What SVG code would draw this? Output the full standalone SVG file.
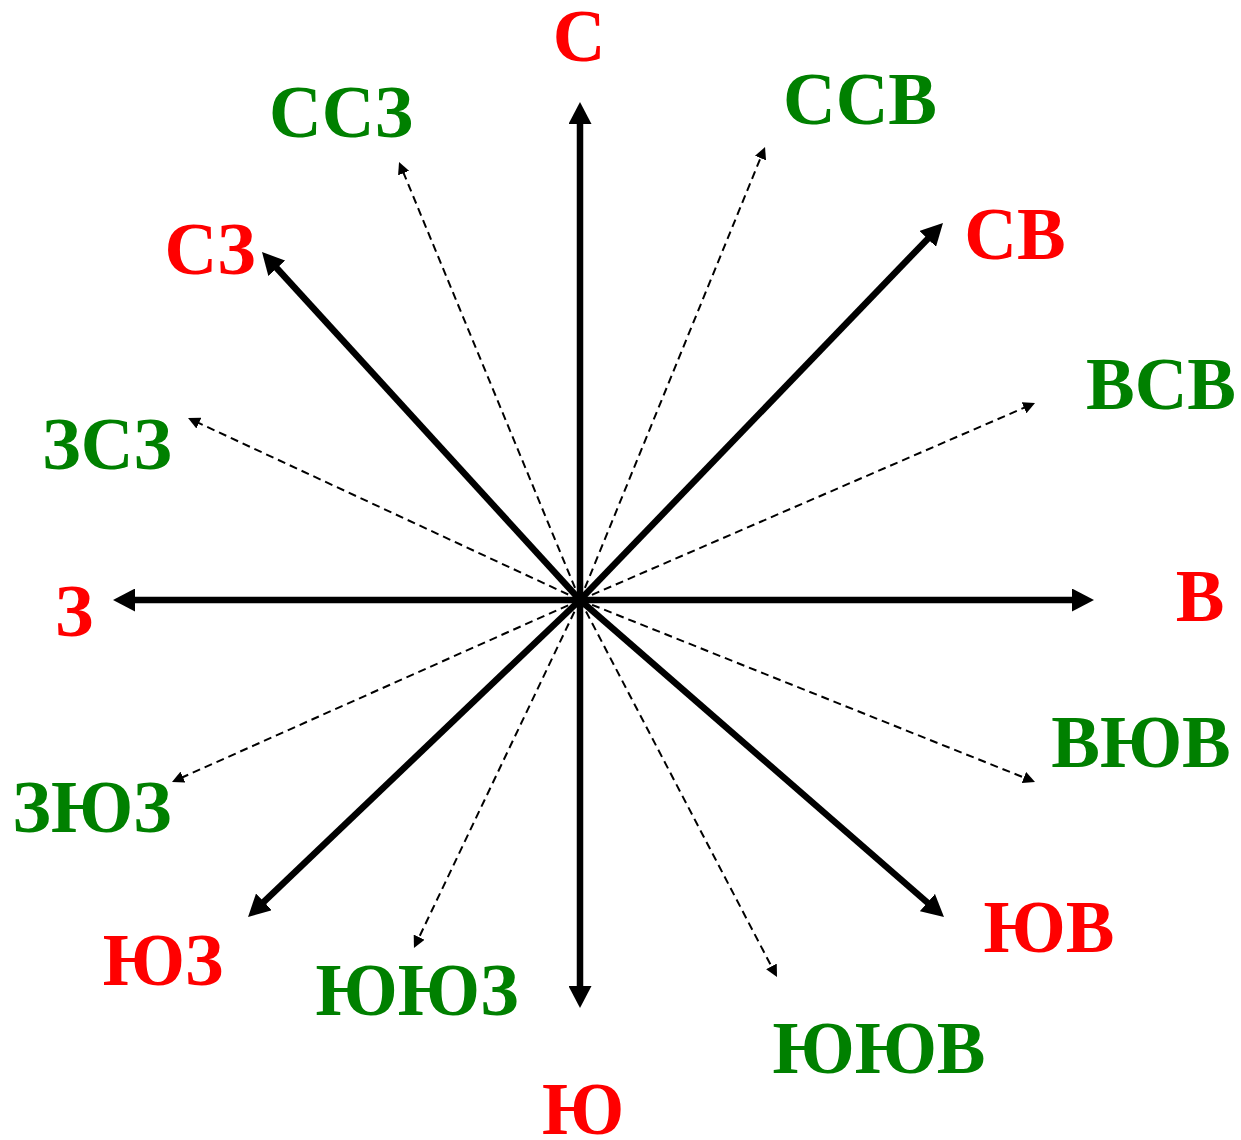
<svg xmlns="http://www.w3.org/2000/svg" width="1241" height="1140" viewBox="0 0 1241 1140">
<style>
.lbl{font-family:"Liberation Serif","Times New Roman",serif;font-weight:bold;font-size:73px;text-anchor:middle}
.red{fill:#FF0000}
.grn{fill:#008000}
.main{stroke:#000;stroke-width:6.5;fill:none;marker-end:url(#big)}
.sub{stroke:#000;stroke-width:2;fill:none;stroke-dasharray:8,5;marker-end:url(#small)}
</style>
<defs>
<marker id="big" markerUnits="userSpaceOnUse" markerWidth="22" markerHeight="23" refX="2" refY="11.5" orient="auto" viewBox="0 0 22 23">
<path d="M0,0 L22,11.5 L0,23 z" fill="#000"/>
</marker>
<marker id="small" markerUnits="userSpaceOnUse" markerWidth="12" markerHeight="12" refX="4" refY="6" orient="auto" viewBox="0 0 12 12">
<path d="M0,0 L12,6 L0,12 z" fill="#000"/>
</marker>
</defs>
<rect width="1241" height="1140" fill="#fff"/>
<g id="connectors">
<line class="sub" x1="580" y1="600" x2="402.1" y2="169.4"/>
<line class="sub" x1="580" y1="600" x2="762.0" y2="154.4"/>
<line class="sub" x1="580" y1="600" x2="1027.7" y2="406.2"/>
<line class="sub" x1="580" y1="600" x2="195.3" y2="421.4"/>
<line class="sub" x1="580" y1="600" x2="179.3" y2="778.7"/>
<line class="sub" x1="580" y1="600" x2="1027.6" y2="779.0"/>
<line class="sub" x1="580" y1="600" x2="417.4" y2="940.8"/>
<line class="sub" x1="580" y1="600" x2="773.3" y2="969.9"/>
<line class="main" x1="580" y1="600" x2="580" y2="122"/>
<line class="main" x1="580" y1="600" x2="580" y2="988"/>
<line class="main" x1="580" y1="600" x2="133" y2="600"/>
<line class="main" x1="580" y1="600" x2="1074" y2="600"/>
<line class="main" x1="580" y1="600" x2="929.1" y2="237.4"/>
<line class="main" x1="580" y1="600" x2="275.5" y2="266.8"/>
<line class="main" x1="580" y1="600" x2="928.9" y2="903.9"/>
<line class="main" x1="580" y1="600" x2="262.5" y2="903.2"/>
</g>
<g id="N"><text class="lbl red" x="579" y="61">С</text></g>
<g id="NNW"><text class="lbl grn" x="341" y="137">ССЗ</text></g>
<g id="NNE"><text class="lbl grn" x="860" y="124">ССВ</text></g>
<g id="NW"><text class="lbl red" x="210" y="274">СЗ</text></g>
<g id="NE"><text class="lbl red" x="1015" y="259">СВ</text></g>
<g id="ENE"><text class="lbl grn" x="1161" y="409">ВСВ</text></g>
<g id="WNW"><text class="lbl grn" x="107" y="469">ЗСЗ</text></g>
<g id="W"><text class="lbl red" x="74" y="636">З</text></g>
<g id="E"><text class="lbl red" x="1200" y="621">В</text></g>
<g id="ESE"><text class="lbl grn" x="1141" y="767">ВЮВ</text></g>
<g id="WSW"><text class="lbl grn" x="92" y="832">ЗЮЗ</text></g>
<g id="SE"><text class="lbl red" x="1049" y="952">ЮВ</text></g>
<g id="SW"><text class="lbl red" x="163" y="985">ЮЗ</text></g>
<g id="SSW"><text class="lbl grn" x="417" y="1015">ЮЮЗ</text></g>
<g id="SSE"><text class="lbl grn" x="879" y="1073">ЮЮВ</text></g>
<g id="S"><text class="lbl red" x="583" y="1134">Ю</text></g>
</svg>
